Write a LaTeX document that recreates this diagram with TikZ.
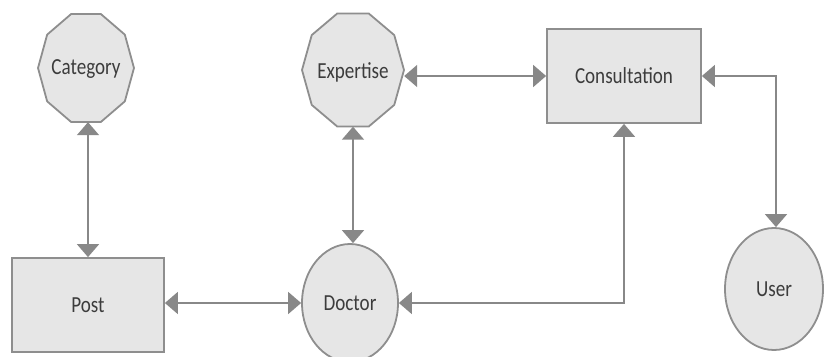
\documentclass[tikz,border=0pt]{standalone}
\usepackage{fontspec}
\setmainfont{Carlito}
\usetikzlibrary{arrows.meta,shapes.geometric,calc}
\definecolor{shapefill}{HTML}{E6E6E6}
\definecolor{shapeline}{HTML}{8E8E8E}
\definecolor{linkcol}{HTML}{888888}
\definecolor{textcol}{HTML}{3C3C3C}
\newcommand{\lbl}[1]{\scalebox{0.83}[1]{\fontsize{23}{26}\selectfont #1}}
\tikzset{
  ent/.style={draw=shapeline, fill=shapefill, line width=1.8pt, text=textcol, inner sep=0pt},
  boxent/.style={ent, rectangle, minimum width=152pt, minimum height=94pt},
  ovalent/.style={ent, ellipse},
  decaent/.style={rectangle, draw=none, text=textcol, inner sep=0pt},
  link/.style={draw=linkcol, line width=1.8pt,
    {Triangle[width=22pt,length=13pt]}-{Triangle[width=22pt,length=13pt]}},
}
\newcommand{\decagon}[3]{% node name, half width, half height
  \pgfmathsetmacro{\rb}{#3/sin(72)}
  \draw[ent] ([shift={(0:#2pt and \rb pt)}]#1.center)
    \foreach \a in {36,72,...,324}{ -- ([shift={(\a:#2pt and \rb pt)}]#1.center)} -- cycle;
}
\begin{document}
\begin{tikzpicture}[x=1pt,y=-1pt]
\useasboundingbox (0,0) rectangle (827,356);
% decagon nodes (outline drawn below)
\node[decaent, minimum width=96pt, minimum height=108pt] (cat) at (86,68) {};
\node[decaent, minimum width=102pt, minimum height=113pt] (exp) at (353,70) {};
\decagon{cat}{48}{54}
\decagon{exp}{51}{56.5}
\node[text=textcol] at ([yshift=-1pt]cat.center) {\lbl{Category}};
\node[text=textcol] at ([yshift=-2pt]exp.center) {\lbl{Expertise}};
% boxes
\node[boxent, minimum width=154pt] (con) at (624,76) {\lbl{Consultation}};
\node[boxent] (post) at (88,305) {\lbl{Post}};
% ellipses
\node[ovalent, minimum width=96pt, minimum height=118pt] (doc) at (350,303) {\lbl{Doctor}};
\node[ovalent, minimum width=98pt, minimum height=122pt] (user) at (774,289) {\lbl{User}};
% connectors
\draw[link] (post.north) -- (post.north |- cat.south);
\draw[link] (exp.south) -- (exp.south |- doc.north);
\draw[link] (con.west -| exp.east) -- (con.west);
\draw[link] (con.east) -| ([xshift=2pt]user.north);
\draw[link] (con.south) |- (doc.east);
\draw[link] (post.east |- doc.west) -- (doc.west);
\end{tikzpicture}
\end{document}
